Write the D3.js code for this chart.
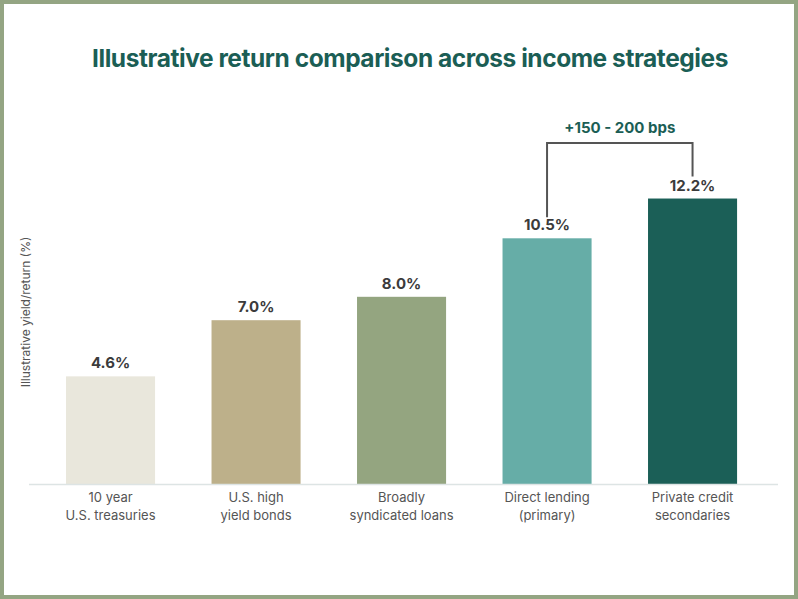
<!DOCTYPE html>
<html>
<head>
<meta charset="utf-8">
<script src="https://cdn.jsdelivr.net/npm/d3@7"></script>
<style>
  html, body { margin: 0; padding: 0; background: #fff; }
  svg { display: block; font-family: Inter, "Noto Sans", sans-serif; }
</style>
</head>
<body>
<svg id="chart" width="798" height="599"></svg>
<script>
const categories = ['10 year|U.S. treasuries', 'U.S. high|yield bonds', 'Broadly|syndicated loans', 'Direct lending|(primary)', 'Private credit|secondaries'];
const values = [4.6, 7.0, 8.0, 10.5, 12.2];
const colors = ['#e9e7dc', '#bdb08a', '#94a580', '#66ada7', '#1b5f57'];
const bracket = { from: 3, to: 4, label: '+150 - 200 bps' };

const width = 798, height = 599;
const svg = d3.select('#chart');

// frame
svg.append('rect')
  .attr('x', 2).attr('y', 2)
  .attr('width', width - 4).attr('height', height - 4)
  .attr('fill', '#fff')
  .attr('stroke', '#94a583')
  .attr('stroke-width', 4);

svg.append('text')
  .attr('x', 410).attr('y', 67)
  .attr('text-anchor', 'middle')
  .attr('fill', '#1b5e55')
  .attr('font-size', 24.5)
  .attr('font-weight', 700)
  .attr('letter-spacing', -0.45)
  .text('Illustrative return comparison across income strategies');

const x = d3.scaleBand()
  .domain(categories)
  .range([37.8, 765.3])
  .paddingInner(0.388)
  .paddingOuter(0.194);

const y = d3.scaleLinear()
  .domain([0, 10])
  .range([484, 250]);

// bars
svg.append('g').selectAll('rect')
  .data(values)
  .join('rect')
  .attr('x', (d, i) => x(categories[i]))
  .attr('y', d => y(d))
  .attr('width', x.bandwidth())
  .attr('height', d => y(0) - y(d))
  .attr('fill', (d, i) => colors[i]);

// baseline
svg.append('line')
  .attr('x1', 29).attr('x2', 778)
  .attr('y1', y(0) + 0.5).attr('y2', y(0) + 0.5)
  .attr('stroke', '#dde4e4')
  .attr('stroke-width', 1.5);

// value labels
svg.append('g').selectAll('text')
  .data(values)
  .join('text')
  .attr('x', (d, i) => x(categories[i]) + x.bandwidth() / 2)
  .attr('y', d => y(d) - 8)
  .attr('text-anchor', 'middle')
  .attr('fill', '#3b3b3b')
  .attr('font-size', 15)
  .attr('font-weight', 700)
  .text(d => d.toFixed(1) + '%');

// category labels
const cat = svg.append('g').selectAll('text')
  .data(categories)
  .join('text')
  .attr('x', d => x(d) + x.bandwidth() / 2)
  .attr('y', 502)
  .attr('text-anchor', 'middle')
  .attr('fill', '#555')
  .attr('font-size', 13);
cat.selectAll('tspan')
  .data(d => d.split('|'))
  .join('tspan')
  .attr('x', function () { return d3.select(this.parentNode).attr('x'); })
  .attr('dy', (d, i) => i ? 18 : 0)
  .text(d => d);

// y axis title
svg.append('text')
  .attr('transform', 'translate(30,312) rotate(-90)')
  .attr('text-anchor', 'middle')
  .attr('fill', '#555')
  .attr('font-size', 12)
  .text('Illustrative yield/return (%)');

// bracket
const bx1 = x(categories[bracket.from]) + x.bandwidth() / 2;
const bx2 = x(categories[bracket.to]) + x.bandwidth() / 2;
const btop = 143;
svg.append('path')
  .attr('d', `M${bx1},${y(values[bracket.from]) - 21}V${btop}H${bx2}V${y(values[bracket.to]) - 22}`)
  .attr('fill', 'none')
  .attr('stroke', '#555')
  .attr('stroke-width', 2);

svg.append('text')
  .attr('x', (bx1 + bx2) / 2)
  .attr('y', 133)
  .attr('text-anchor', 'middle')
  .attr('fill', '#1b5e55')
  .attr('font-size', 15)
  .attr('font-weight', 700)
  .text(bracket.label);
</script>
</body>
</html>
